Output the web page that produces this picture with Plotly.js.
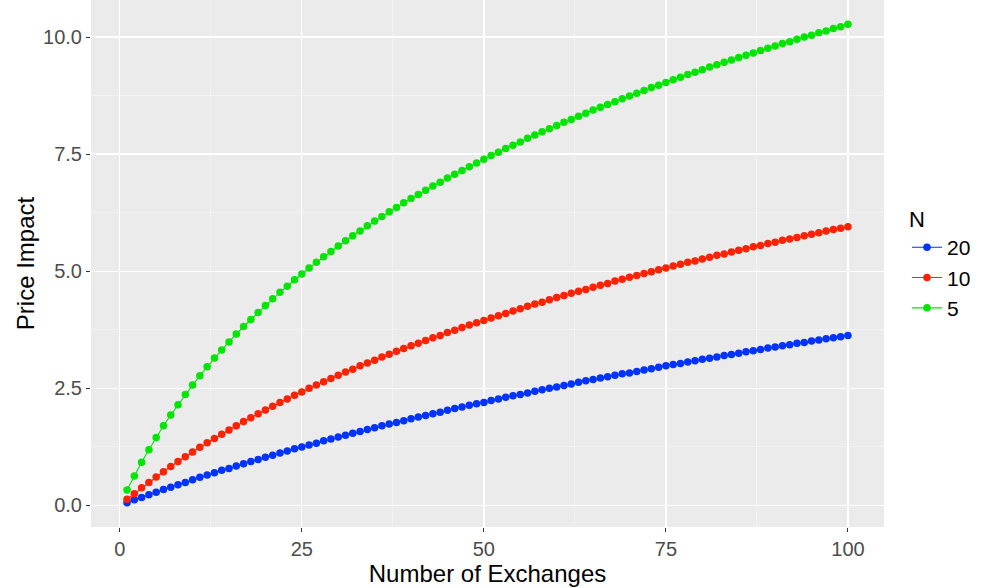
<!DOCTYPE html>
<html>
<head>
<meta charset="utf-8">
<script src="https://cdn.plot.ly/plotly-3.0.1.min.js"></script>
<style>html,body{margin:0;padding:0;background:#fff;}#chart{width:984px;height:588px;}</style>
</head>
<body>
<div id="chart"></div>
<script>
const exchanges = Array.from({length: 100}, (_, i) => i + 1);
const seriesNames = ["20", "10", "5"];
const impactN20 = [0.06,0.12,0.17,0.23,0.28,0.34,0.39,0.44,0.49,0.55,
0.60,0.65,0.70,0.75,0.79,0.84,0.89,0.94,0.98,1.03,
1.07,1.12,1.16,1.21,1.25,1.29,1.33,1.38,1.42,1.46,
1.50,1.54,1.58,1.62,1.66,1.70,1.74,1.77,1.81,1.85,
1.89,1.92,1.96,1.99,2.03,2.07,2.10,2.14,2.17,2.20,
2.24,2.27,2.31,2.34,2.37,2.40,2.44,2.47,2.50,2.53,
2.56,2.59,2.63,2.66,2.69,2.72,2.75,2.78,2.81,2.83,
2.86,2.89,2.92,2.95,2.98,3.01,3.03,3.06,3.09,3.12,
3.14,3.17,3.20,3.22,3.25,3.28,3.30,3.33,3.36,3.38,
3.41,3.43,3.46,3.48,3.51,3.53,3.56,3.58,3.60,3.63];
const impactN10 = [0.13,0.25,0.38,0.49,0.61,0.72,0.83,0.94,1.04,1.14,
1.24,1.34,1.43,1.52,1.61,1.70,1.79,1.87,1.96,2.04,
2.12,2.20,2.27,2.35,2.42,2.50,2.57,2.64,2.71,2.78,
2.85,2.91,2.98,3.04,3.10,3.17,3.23,3.29,3.35,3.41,
3.46,3.52,3.58,3.63,3.69,3.74,3.80,3.85,3.90,3.95,
4.00,4.05,4.10,4.15,4.20,4.25,4.30,4.34,4.39,4.44,
4.48,4.53,4.57,4.61,4.66,4.70,4.74,4.79,4.83,4.87,
4.91,4.95,4.99,5.03,5.07,5.11,5.15,5.19,5.22,5.26,
5.30,5.34,5.37,5.41,5.45,5.48,5.52,5.55,5.59,5.62,
5.66,5.69,5.72,5.76,5.79,5.82,5.86,5.89,5.92,5.95];
const impactN5 = [0.33,0.63,0.92,1.19,1.45,1.70,1.93,2.15,2.37,2.57,
2.77,2.96,3.15,3.32,3.49,3.66,3.82,3.97,4.12,4.27,
4.41,4.55,4.68,4.82,4.94,5.07,5.19,5.31,5.42,5.54,
5.65,5.76,5.86,5.97,6.07,6.17,6.27,6.36,6.46,6.55,
6.64,6.73,6.82,6.90,6.99,7.07,7.15,7.23,7.31,7.39,
7.47,7.54,7.62,7.69,7.76,7.84,7.91,7.98,8.04,8.11,
8.18,8.24,8.31,8.37,8.44,8.50,8.56,8.62,8.68,8.74,
8.80,8.86,8.92,8.97,9.03,9.09,9.14,9.20,9.25,9.30,
9.36,9.41,9.46,9.51,9.56,9.61,9.66,9.71,9.76,9.81,
9.86,9.90,9.95,10.00,10.04,10.09,10.13,10.18,10.22,10.27];
const yTickVals = [0, 2.5, 5, 7.5, 10];
const yTickText = ["0.0", "2.5", "5.0", "7.5", "10.0"];
const xTickVals = [0, 25, 50, 75, 100];
const xTickText = ["0", "25", "50", "75", "100"];

const colors = ["#0033FF", "#FF2200", "#00E500"];
const ys = [impactN20, impactN10, impactN5];
const traces = ys.map((y, i) => ({
  type: "scatter", mode: "lines+markers", x: exchanges, y: y, name: seriesNames[i],
  line: {color: colors[i], width: 1.1},
  marker: {color: colors[i], size: 7.5}
}));

const font = "Liberation Sans, Arial, sans-serif";
const layout = {
  width: 984, height: 588,
  margin: {l: 91, r: 100, t: 0, b: 61},
  paper_bgcolor: "#FFFFFF", plot_bgcolor: "#EBEBEB",
  font: {family: font, color: "#4D4D4D"},
  xaxis: {
    range: [-3.95, 104.95], tickvals: xTickVals, ticktext: xTickText,
    showgrid: true, gridcolor: "#FFFFFF", gridwidth: 1.3, zeroline: false, showline: false,
    ticks: "outside", ticklen: 4, tickwidth: 1, tickcolor: "#333333",
    tickfont: {size: 20, color: "#4D4D4D", family: font},
    minor: {tickvals: [12.5, 37.5, 62.5, 87.5], showgrid: true, gridcolor: "#F7F7F7", gridwidth: 0.7, ticks: ""},
    title: {text: "Number of Exchanges", font: {size: 24, color: "#000000", family: font}, standoff: 0}
  },
  yaxis: {
    range: [-0.46, 10.79], tickvals: yTickVals, ticktext: yTickText,
    showgrid: true, gridcolor: "#FFFFFF", gridwidth: 1.3, zeroline: false, showline: false,
    ticks: "outside", ticklen: 4, tickwidth: 1, tickcolor: "#333333",
    tickfont: {size: 20, color: "#4D4D4D", family: font},
    minor: {tickvals: [1.25, 3.75, 6.25, 8.75], showgrid: true, gridcolor: "#F7F7F7", gridwidth: 0.7, ticks: ""},
    title: {text: "Price Impact", font: {size: 24, color: "#000000", family: font}, standoff: 1}
  },
  showlegend: true,
  legend: {
    x: 1.029, xanchor: "left", y: 0.50, yanchor: "middle",
    title: {text: "N", font: {size: 22, color: "#000000", family: font}},
    font: {size: 21, color: "#000000", family: font},
    bgcolor: "rgba(0,0,0,0)", itemwidth: 30, tracegroupgap: 0
  }
};
Plotly.newPlot("chart", traces, layout, {staticPlot: true, displayModeBar: false});
</script>
</body>
</html>
